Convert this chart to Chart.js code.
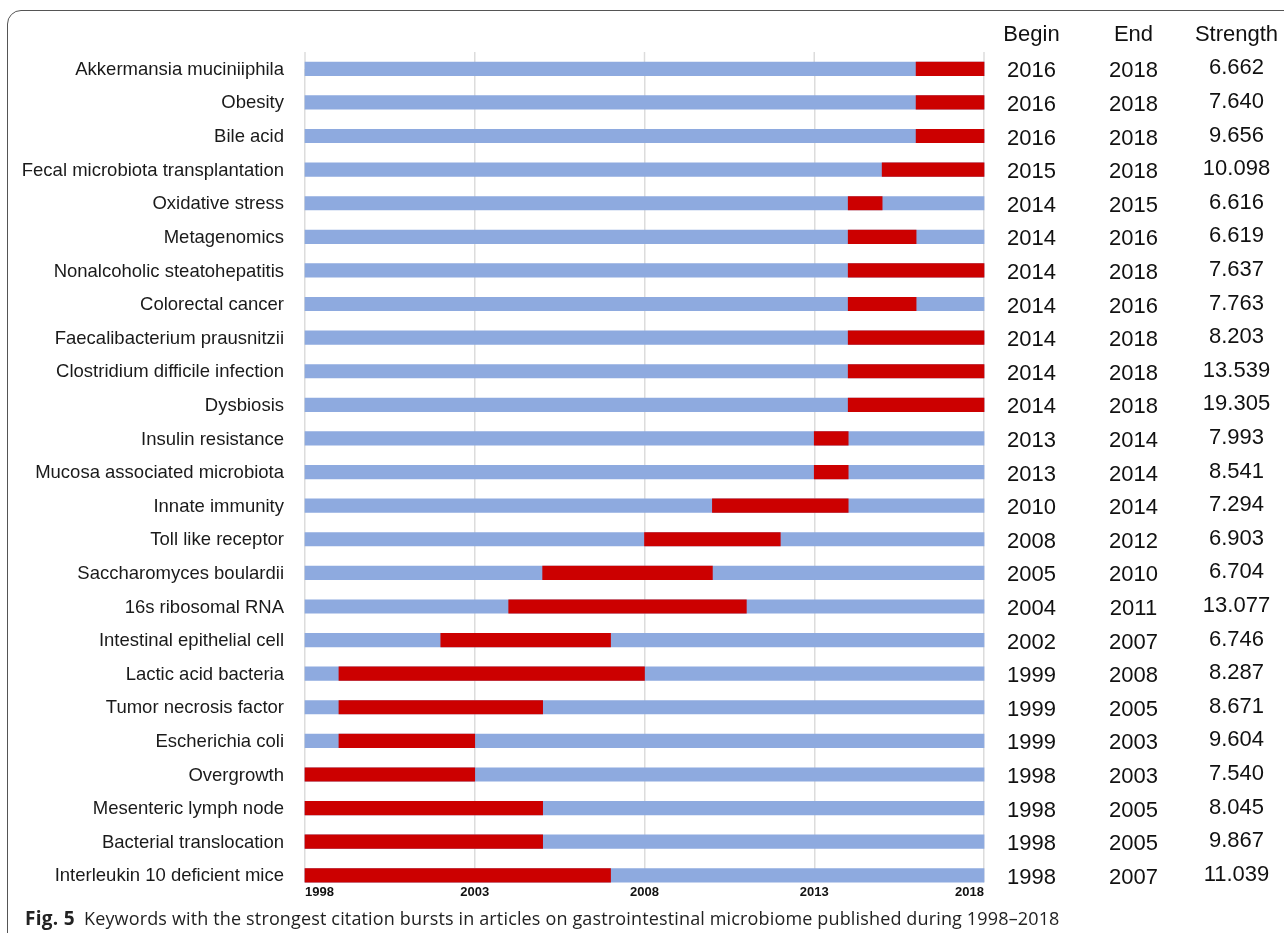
<!DOCTYPE html>
<html>
<head>
<meta charset="utf-8">
<script src="https://cdn.jsdelivr.net/npm/chart.js@4.4.0/dist/chart.umd.min.js"></script>
<style>
  html, body { margin: 0; padding: 0; background: #fff; overflow: hidden; }
  body { width: 1284px; height: 933px; position: relative; }
  .frame {
    position: absolute; left: 7px; top: 10px; width: 1320px; height: 960px;
    border: 1.5px solid #555; border-radius: 14px;
  }
  #burstChart { position: absolute; left: 0; top: 0; }
  .caption {
    position: absolute; left: 25px; top: 905px; white-space: nowrap;
    font-family: 'Open Sans', sans-serif; font-size: 18px; color: #222;
    letter-spacing: 0.15px;
  }
  .caption b { font-size: 19px; letter-spacing: 0.3px; margin-right: 9px; }
</style>
</head>
<body>
<div class="frame"></div>
<canvas id="burstChart" width="1284" height="933"></canvas>
<div class="caption"><b>Fig. 5</b>Keywords with the strongest citation bursts in articles on gastrointestinal microbiome published during 1998–2018</div>

<script>
// keyword bursts
var keywords = [
    'Akkermansia muciniiphila', 'Obesity', 'Bile acid', 'Fecal microbiota transplantation',
    'Oxidative stress', 'Metagenomics', 'Nonalcoholic steatohepatitis', 'Colorectal cancer',
    'Faecalibacterium prausnitzii', 'Clostridium difficile infection', 'Dysbiosis',
    'Insulin resistance', 'Mucosa associated microbiota', 'Innate immunity', 'Toll like receptor',
    'Saccharomyces boulardii', '16s ribosomal RNA', 'Intestinal epithelial cell',
    'Lactic acid bacteria', 'Tumor necrosis factor', 'Escherichia coli', 'Overgrowth',
    'Mesenteric lymph node', 'Bacterial translocation', 'Interleukin 10 deficient mice'
];
var begins = [2016, 2016, 2016, 2015, 2014, 2014, 2014, 2014, 2014, 2014, 2014, 2013, 2013,
    2010, 2008, 2005, 2004, 2002, 1999, 1999, 1999, 1998, 1998, 1998, 1998];
var ends = [2018, 2018, 2018, 2018, 2015, 2016, 2018, 2016, 2018, 2018, 2018, 2014, 2014,
    2014, 2012, 2010, 2011, 2007, 2008, 2005, 2003, 2003, 2005, 2005, 2007];
var strengths = [6.662, 7.640, 9.656, 10.098, 6.616, 6.619, 7.637, 7.763, 8.203, 13.539, 19.305,
    7.993, 8.541, 7.294, 6.903, 6.704, 13.077, 6.746, 8.287, 8.671, 9.604, 7.540, 8.045, 9.867, 11.039];
var firstYear = 1998;
var lastYear = 2018;
var yearTicks = ['1998', '2003', '2008', '2013', '2018'];

var blue = '#8eaadf';
var red = '#cc0000';
var gridColor = '#dcdcdc';

// vertical grid lines reach up half a row above the first bar
var gridTopPlugin = {
    id: 'gridTop',
    beforeDatasetsDraw: function (chart) {
        var c = chart.ctx;
        var xScale = chart.scales.x;
        var yScale = chart.scales.y;
        var half = (yScale.getPixelForValue(1) - yScale.getPixelForValue(0)) / 2;
        var top = chart.chartArea.top;
        c.save();
        c.strokeStyle = gridColor;
        c.lineWidth = 1.5;
        xScale.ticks.forEach(function (t) {
            var x = xScale.getPixelForValue(t.value);
            c.beginPath();
            c.moveTo(x, top - half);
            c.lineTo(x, top);
            c.stroke();
        });
        c.restore();
    }
};

// Begin / End / Strength columns on the right
var tablePlugin = {
    id: 'burstTable',
    afterDraw: function (chart) {
        var c = chart.ctx;
        var yScale = chart.scales.y;
        var cols = [1031.5, 1133.5, 1236.5];
        c.save();
        c.fillStyle = '#111';
        c.textAlign = 'center';
        c.textBaseline = 'middle';
        c.font = '22px "Liberation Sans", Arial, sans-serif';
        c.fillText('Begin', cols[0], 35);
        c.fillText('End', cols[1], 35);
        c.fillText('Strength', cols[2], 35);
        for (var i = 0; i < keywords.length; i++) {
            var y = yScale.getPixelForValue(i);
            c.fillText(String(begins[i]), cols[0], y + 2.5);
            c.fillText(String(ends[i]), cols[1], y + 2.5);
            c.fillText(strengths[i].toFixed(3), cols[2], y - 0.5);
        }
        c.restore();
    }
};

var ctx = document.getElementById('burstChart').getContext('2d');
var burstChart = new Chart(ctx, {
    type: 'bar',
    data: {
        labels: keywords,
        datasets: [
            {
                label: 'Burst',
                data: begins.map(function (b, i) { return [b, ends[i]]; }),
                backgroundColor: red,
                order: 0,
                grouped: false,
                barThickness: 13.5,
                clip: false
            },
            {
                label: 'Span',
                data: keywords.map(function () { return [firstYear, lastYear]; }),
                backgroundColor: blue,
                order: 1,
                grouped: false,
                barThickness: 13.5,
                clip: false
            }
        ]
    },
    options: {
        indexAxis: 'y',
        responsive: false,
        animation: false,
        layout: { padding: { left: 0, right: 300, top: 68.8, bottom: 27.7 } },
        plugins: {
            legend: { display: false },
            tooltip: { enabled: false }
        },
        scales: {
            x: {
                type: 'linear',
                min: firstYear,
                max: lastYear,
                afterFit: function (scale) { scale.height = 30; },
                afterBuildTicks: function (scale) {
                    scale.ticks = yearTicks.map(function (t) { return { value: Number(t) }; });
                },
                ticks: {
                    callback: function (v) { return String(v); },
                    color: '#111',
                    padding: 2,
                    align: 'inner',
                    maxRotation: 0,
                    font: { family: '"Liberation Sans", Arial', size: 13, weight: 'bold' }
                },
                grid: { color: gridColor, lineWidth: 1.5, tickLength: 7 },
                border: { display: false }
            },
            y: {
                offset: false,
                afterFit: function (scale) { scale.width = 305; },
                grid: { display: false, drawTicks: false },
                border: { display: false },
                ticks: {
                    autoSkip: false,
                    color: '#1a1a1a',
                    padding: 21,
                    labelOffset: 1,
                    font: { family: '"Liberation Sans", Arial, sans-serif', size: 18.5 }
                }
            }
        }
    },
    plugins: [gridTopPlugin, tablePlugin]
});
</script>
</body>
</html>
